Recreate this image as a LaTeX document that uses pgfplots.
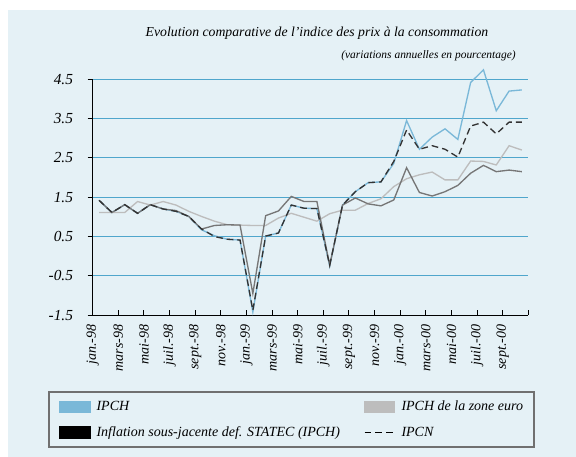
\documentclass[border=0pt]{standalone}
\usepackage{pgfplots}
\pgfplotsset{compat=1.18}
\usepackage{fontspec}
\setmainfont{Liberation Serif}
\definecolor{bgc}{HTML}{E5F1F6}
\definecolor{gridc}{HTML}{4FA6CC}
\definecolor{ipch}{HTML}{7AB8D8}
\definecolor{euro}{HTML}{BDBDBD}
\definecolor{sousj}{HTML}{767676}
\definecolor{dashc}{HTML}{333333}
\definecolor{boxc}{HTML}{707070}
\begin{document}
\begin{tikzpicture}
\fill[white] (0,0) rectangle (432pt,342.75pt);
\path[use as bounding box] (0,0) rectangle (432pt,342.75pt);
\fill[bgc] (6pt,0) rectangle (432pt,335.25pt);
\node[font=\itshape\fontsize{10.3}{12}\selectfont] at (237.75pt,318pt) {Evolution comparative de l'indice des prix à la consommation};
\node[anchor=east,inner sep=0pt,font=\itshape\fontsize{8.6}{10}\selectfont] at (387pt,300.75pt) {(variations annuelles en pourcentage)};
\draw[boxc, line width=1pt] (36.75pt,7.5pt) rectangle (400.5pt,48.75pt);
\begin{axis}[
  at={(69.525pt,106.425pt)}, anchor=south west,
  scale only axis, width=326.7pt, height=176.85pt,
  xmin=-0.5, xmax=33.5, ymin=-1.5, ymax=4.5,
  clip=false,
  axis lines=left, axis line style={-, black, line width=0.8pt},
  tick align=outside, major tick length=3.75pt,
  tick style={black, line width=0.8pt},
  x tick style={yshift=3.75pt},
  ytick={-1.5,-0.5,0.5,1.5,2.5,3.5,4.5},
  yticklabels={-1.5,-0.5,0.5,1.5,2.5,3.5,4.5},
  yticklabel style={font=\itshape\fontsize{11.5}{13}\selectfont, xshift=-7.5pt},
  xtick={-0.5,1.5,...,33.5},
  xticklabels={jan.-98,mars-98,mai-98,juil.-98,sept.-98,nov.-98,jan.-99,mars-99,mai-99,juil.-99,sept.-99,nov.-99,jan.-00,mars-00,mai-00,juil.-00,sept.-00,{}},
  xticklabel style={rotate=90, anchor=east, font=\itshape\fontsize{10.5}{12}\selectfont},
  ymajorgrids, grid style={gridc, line width=0.8pt},
  legend columns=2,
  legend style={draw=none, fill=none, at={(axis description cs:-0.0774,-0.353)}, anchor=north west,
    inner sep=0pt, row sep=6.25pt, font=\itshape\fontsize{10.5}{12}\selectfont},
  legend cell align=left,
]
\addplot[ipch, line width=1pt, legend image code/.code={\fill[ipch] (0pt,-4.1pt) rectangle (22.5pt,4.1pt);}] coordinates {
(0,1.42)(1,1.11)(2,1.31)(3,1.09)(4,1.31)(5,1.20)(6,1.14)(7,1.01)(8,0.67)(9,0.52)(10,0.43)(11,0.41)(12,-1.42)(13,0.51)(14,0.59)(15,1.30)(16,1.22)(17,1.21)(18,-0.25)(19,1.30)(20,1.64)(21,1.87)(22,1.89)(23,2.36)(24,3.45)(25,2.72)(26,3.03)(27,3.24)(28,2.97)(29,4.42)(30,4.74)(31,3.70)(32,4.20)(33,4.23)};
\addlegendentry{\hspace{2.5pt}\makebox[198.5pt][l]{IPCH}}
\addplot[euro, line width=1pt, legend image code/.code={\fill[euro] (0pt,-4.1pt) rectangle (22.5pt,4.1pt);}] coordinates {
(0,1.11)(1,1.11)(2,1.11)(3,1.39)(4,1.30)(5,1.39)(6,1.30)(7,1.14)(8,1.01)(9,0.89)(10,0.80)(11,0.79)(12,0.78)(13,0.78)(14,0.97)(15,1.09)(16,0.99)(17,0.89)(18,1.08)(19,1.17)(20,1.17)(21,1.34)(22,1.46)(23,1.77)(24,1.97)(25,2.07)(26,2.14)(27,1.94)(28,1.94)(29,2.42)(30,2.41)(31,2.32)(32,2.81)(33,2.70)};
\addlegendentry{\hspace{2.5pt}IPCH de la zone euro}
\addplot[sousj, line width=1pt, legend image code/.code={\fill[black] (0pt,-4.1pt) rectangle (22.5pt,4.1pt);}] coordinates {
(0,1.42)(1,1.11)(2,1.31)(3,1.09)(4,1.31)(5,1.20)(6,1.16)(7,1.01)(8,0.69)(9,0.78)(10,0.80)(11,0.79)(12,-0.95)(13,1.03)(14,1.15)(15,1.52)(16,1.39)(17,1.39)(18,-0.23)(19,1.30)(20,1.48)(21,1.33)(22,1.28)(23,1.43)(24,2.25)(25,1.62)(26,1.53)(27,1.64)(28,1.80)(29,2.11)(30,2.31)(31,2.15)(32,2.19)(33,2.15)};
\addlegendentry{\hspace{2.5pt}\makebox[198.5pt][l]{Inflation sous-jacente def. STATEC (IPCH)}}
\addplot[dashc, line width=1pt, dash pattern=on 5pt off 3pt, legend image code/.code={\draw[black, line width=1.2pt, dash pattern=on 5pt off 3pt] (0pt,0pt) -- (22.5pt,0pt);}] coordinates {
(0,1.42)(1,1.11)(2,1.31)(3,1.09)(4,1.31)(5,1.20)(6,1.14)(7,1.01)(8,0.69)(9,0.50)(10,0.43)(11,0.41)(12,-1.38)(13,0.51)(14,0.59)(15,1.30)(16,1.22)(17,1.21)(18,-0.23)(19,1.30)(20,1.64)(21,1.87)(22,1.89)(23,2.41)(24,3.21)(25,2.72)(26,2.81)(27,2.72)(28,2.52)(29,3.31)(30,3.41)(31,3.11)(32,3.41)(33,3.41)};
\addlegendentry{\hspace{2.5pt}IPCN}
\end{axis}
\end{tikzpicture}
\end{document}
